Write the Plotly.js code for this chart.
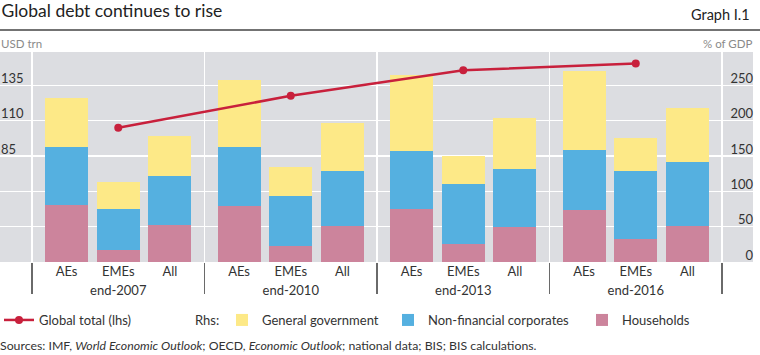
<!DOCTYPE html>
<html>
<head>
<meta charset="utf-8">
<script src="https://cdn.plot.ly/plotly-3.0.1.min.js"></script>
<style>
html,body{margin:0;padding:0;background:#fff;}
#chart{width:760px;height:355px;}
</style>
</head>
<body>
<div id="chart"></div>
<script>
// ---------------- DATA ----------------
const groups = ["end-2007", "end-2010", "end-2013", "end-2016"];
const regions = ["AEs", "EMEs", "All"];
// Rhs, % of GDP; one row per group, values for [AEs, EMEs, All]
const households  = [[80, 17.5, 52], [79, 23, 51], [75, 26, 49], [73, 32, 50.5]];
const nonFinCorp  = [[82, 58, 70],   [83, 71, 77], [82, 84, 83], [85, 97, 91]];
const generalGov  = [[70, 37, 56],   [96, 40, 68], [108, 40, 72], [112, 47, 77]];
// Lhs, USD trn
const globalTotal = [105, 127.5, 145.6, 150.4];
const rhsTicks = [0, 50, 100, 150, 200, 250];
const lhsTicks = [85, 110, 135];

// ---------------- STYLE / GEOMETRY ----------------
const FONT = "Lato, 'Open Sans', sans-serif";
const TXT = "#333333";
const COL = { gov: "#fde987", nfc: "#55b0e0", hh: "#cc849c", line: "#c8203c", bg: "#dcdde1" };
const PW = 753;               // plotting width in px (margin l=0, r=7)
const PT = 52, PB = 262;      // plot top / bottom in px
const PH = PB - PT;
const firstBoundary = 32, groupW = 172.5, barStep = 51.7, barW = 43;
const bounds = [0, 1, 2, 3, 4].map(k => firstBoundary + groupW * k);
const centers = [0, 1, 2, 3].map(k => firstBoundary + groupW * (k + 0.5));
const py = p => (PB - p) / PH;   // px (from top) -> paper y
const pxX = p => p / PW;         // px -> paper x

const axNames = ["x", "x2", "x3", "x4"];
const series = [
  { name: "Households", vals: households, color: COL.hh, legend: "legend4" },
  { name: "Non-financial corporates", vals: nonFinCorp, color: COL.nfc, legend: "legend3" },
  { name: "General government", vals: generalGov, color: COL.gov, legend: "legend2" }
];

const traces = [];
groups.forEach((g, k) => {
  series.forEach(s => {
    traces.push({
      type: "bar",
      name: s.name,
      x: regions,
      y: s.vals[k],
      xaxis: axNames[k],
      yaxis: "y",
      marker: { color: s.color, line: { width: 0 } },
      legend: s.legend,
      legendgroup: s.name,
      showlegend: k === 0,
      hoverinfo: "skip"
    });
  });
});
traces.push({
  type: "scatter",
  mode: "lines+markers",
  name: "Global total (lhs)",
  x: groups,
  y: globalTotal,
  xaxis: "x5",
  yaxis: "y2",
  line: { color: COL.line, width: 2.5 },
  marker: { color: COL.line, size: 8 },
  cliponaxis: false,
  legend: "legend",
  showlegend: true,
  hoverinfo: "skip"
});

const tickFont = { family: FONT, size: 13, color: TXT };
const layout = {
  width: 760, height: 355,
  margin: { l: 0, r: 760 - PW, t: PT, b: 355 - PB, autoexpand: false },
  paper_bgcolor: "#ffffff",
  plot_bgcolor: "rgba(0,0,0,0)",
  font: { family: FONT, size: 13, color: TXT },
  showlegend: true,
  barmode: "stack",
  bargap: 1 - barW / barStep,
  hovermode: false,
  title: {
    text: "Global debt continues to rise",
    x: 0.002, xref: "container", xanchor: "left",
    y: 1 - 11 / 355, yref: "container", yanchor: "middle",
    font: { family: FONT, size: 17.5, color: "#222" }
  },
  // rhs axis (% of GDP): line at right edge, labels drawn to its left (inside the grey area)
  yaxis: {
    domain: [0, 1], range: [0, 297], side: "left", anchor: "free", position: 1,
    tickvals: rhsTicks, showgrid: true, gridcolor: "#ffffff", gridwidth: 1.2,
    zeroline: false, showline: false, ticks: "", ticklabelposition: "outside",
    ticklabelshift: -7, tickfont: tickFont, fixedrange: true
  },
  // lhs axis (USD trn): line at left edge, labels drawn to its right
  yaxis2: {
    domain: [0, 1], range: [10, 158.5], side: "right", anchor: "free", position: 0,
    tickvals: lhsTicks, showgrid: false, zeroline: false, showline: false, ticks: "",
    ticklabelposition: "outside", ticklabelshift: -7, tickfont: tickFont, fixedrange: true
  },
  xaxis5: {
    domain: [0, 1], type: "category", categoryorder: "array", categoryarray: groups,
    range: [(0 - centers[0]) / groupW, (PW - centers[0]) / groupW],
    anchor: "y2", tickson: "boundaries", showgrid: true, gridcolor: "#ffffff", gridwidth: 1.5,
    ticks: "outside", ticklen: 31, tickwidth: 1.5, tickcolor: "#6a6a6a",
    ticklabelstandoff: 19, tickfont: tickFont, zeroline: false, showline: false, fixedrange: true
  },
  shapes: [
    { type: "rect", xref: "paper", yref: "paper", x0: 0, x1: 1, y0: 0, y1: 1,
      fillcolor: COL.bg, line: { width: 0 }, layer: "below" },
    { type: "line", xref: "paper", yref: "paper", x0: 0, x1: pxX(760), y0: py(30), y1: py(30),
      line: { color: "#444", width: 1.4 } }
  ],
  annotations: [
    { text: "Graph I.1", xref: "paper", yref: "paper", x: pxX(752), y: py(15),
      xanchor: "right", yanchor: "middle", showarrow: false,
      font: { family: FONT, size: 14.5, color: "#222" } },
    { text: "USD trn", xref: "paper", yref: "paper", x: pxX(-1), y: py(44),
      xanchor: "left", yanchor: "middle", showarrow: false,
      font: { family: FONT, size: 11.5, color: "#8a8a8a" } },
    { text: "% of GDP", xref: "paper", yref: "paper", x: pxX(754), y: py(44),
      xanchor: "right", yanchor: "middle", showarrow: false,
      font: { family: FONT, size: 11.5, color: "#8a8a8a" } },
    { text: "Rhs:", xref: "paper", yref: "paper", x: pxX(193), y: py(320),
      xanchor: "left", yanchor: "middle", showarrow: false,
      font: { family: FONT, size: 13, color: TXT } },
    { text: "Sources: IMF, <i>World Economic Outlook</i>; OECD, <i>Economic Outlook</i>; national data; BIS; BIS calculations.",
      xref: "paper", yref: "paper", x: pxX(-2), y: py(345),
      xanchor: "left", yanchor: "middle", showarrow: false,
      font: { family: FONT, size: 12.3, color: TXT } }
  ]
};

axNames.forEach((ax, k) => {
  const left = k === 0 ? 0 : bounds[k];
  const right = k === 3 ? PW : bounds[k + 1];
  const key = ax === "x" ? "xaxis" : "xaxis" + ax.slice(1);
  layout[key] = {
    domain: [left / PW, right / PW], type: "category",
    categoryorder: "array", categoryarray: regions,
    range: [(left - centers[k]) / barStep + 1, (right - centers[k]) / barStep + 1],
    anchor: "y", showgrid: false, zeroline: false, showline: false, ticks: "",
    tickfont: tickFont, fixedrange: true
  };
});

const legendBase = (xpx) => ({
  visible: true,
  orientation: "h", x: pxX(xpx), xanchor: "left", y: py(320), yanchor: "middle",
  bgcolor: "rgba(0,0,0,0)", borderwidth: 0, itemwidth: 30,
  font: { family: FONT, size: 13, color: TXT }
});
layout.legend = legendBase(-1);
layout.legend2 = legendBase(222);
layout.legend3 = legendBase(388);
layout.legend4 = legendBase(582);

Plotly.newPlot("chart", traces, layout, { staticPlot: true, displayModeBar: false });
</script>
</body>
</html>
